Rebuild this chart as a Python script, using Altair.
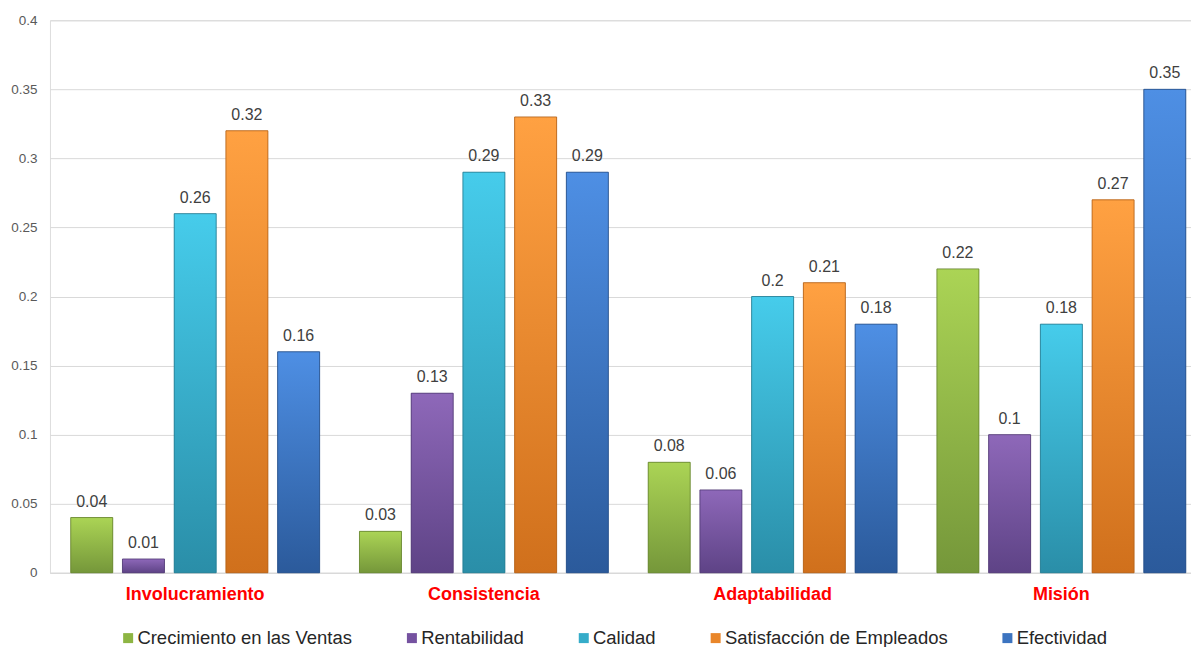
import altair as alt
import pandas as pd

categories = ["Involucramiento", "Consistencia", "Adaptabilidad", "Misión"]
series = ["Crecimiento en las Ventas", "Rentabilidad", "Calidad",
          "Satisfacción de Empleados", "Efectividad"]
crecimiento = [0.04, 0.03, 0.08, 0.22]
rentabilidad = [0.01, 0.13, 0.06, 0.10]
calidad = [0.26, 0.29, 0.20, 0.18]
satisfaccion = [0.32, 0.33, 0.21, 0.27]
efectividad = [0.16, 0.29, 0.18, 0.35]
y_ticks = [0, 0.05, 0.1, 0.15, 0.2, 0.25, 0.3, 0.35, 0.4]

solid = ["#8db543", "#7552a0", "#35acc9", "#e9862a", "#3c74c0"]
tops = ["#abd455", "#8e68b9", "#46cceb", "#ffa142", "#4e8fe4"]
bottoms = ["#75973a", "#5e4386", "#2a8ea8", "#d0701c", "#2b5a9b"]
edges = ["#65822f", "#4f3872", "#23788e", "#b05f18", "#244d85"]

vals = [crecimiento, rentabilidad, calidad, satisfaccion, efectividad]
rows = []
for s, v in zip(series, vals):
    for c, x in zip(categories, v):
        rows.append({"cat": c, "serie": s, "val": x})
df = pd.DataFrame(rows)

FONT = "Liberation Sans"

x_enc = alt.X("cat:N", sort=categories, title=None,
              scale=alt.Scale(paddingInner=0.138, paddingOuter=0.045, align=0.8),
              axis=alt.Axis(labelColor="#ff0000", labelFontWeight="bold", labelFontSize=18,
                            labelFont=FONT, labelPadding=13, ticks=False,
                            domainColor="#d9d9d9", domainWidth=1, labelAngle=0, grid=False))
xo_enc = alt.XOffset("serie:N", sort=series,
                     scale=alt.Scale(domain=series, paddingInner=0.188, paddingOuter=0))
y_enc = alt.Y("val:Q", title=None,
              scale=alt.Scale(domain=[0, 0.4], nice=False),
              axis=alt.Axis(values=y_ticks, format="~g", labelColor="#595959", labelFontSize=13.5,
                            labelFont=FONT, labelPadding=13, ticks=False, domain=False,
                            gridColor="#d9d9d9", gridWidth=1))

base = alt.Chart(df).mark_bar().encode(
    x=x_enc, xOffset=xo_enc, y=y_enc,
    color=alt.Color("serie:N", sort=series,
                    scale=alt.Scale(domain=series, range=solid),
                    legend=alt.Legend(title=None, orient="none", legendX=69, legendY=609,
                                      direction="horizontal", symbolType="square",
                                      symbolSize=100, symbolStrokeWidth=0,
                                      labelFontSize=18.5, labelFont=FONT, labelColor="#262626",
                                      labelOffset=0, columnPadding=50, labelLimit=400)),
)

layers = [base]
for i, s in enumerate(series):
    grad = alt.Gradient(gradient="linear",
                        stops=[alt.GradientStop(color=tops[i], offset=0),
                               alt.GradientStop(color=bottoms[i], offset=1)],
                        x1=0, x2=0, y1=0, y2=1)
    layers.append(
        alt.Chart(df).transform_filter(alt.datum.serie == s).mark_bar(
            fill=grad, stroke=edges[i], strokeWidth=0.8
        ).encode(x=alt.X("cat:N", sort=categories), xOffset=alt.XOffset("serie:N", sort=series),
                 y=alt.Y("val:Q"))
    )

text = alt.Chart(df).mark_text(baseline="alphabetic", dy=-11, fontSize=16, font=FONT,
                               color="#404040").encode(
    x=alt.X("cat:N", sort=categories), xOffset=alt.XOffset("serie:N", sort=series),
    y=alt.Y("val:Q"), text=alt.Text("val:Q", format="~g"))
layers.append(text)

chart = alt.layer(*layers).properties(
    width=1142, height=553,
    padding={"left": 10, "top": 13, "right": 0, "bottom": 0},
).configure_view(stroke=None).configure(background="white")

chart.save("out.html", embed_options={"renderer": "svg", "actions": False})
